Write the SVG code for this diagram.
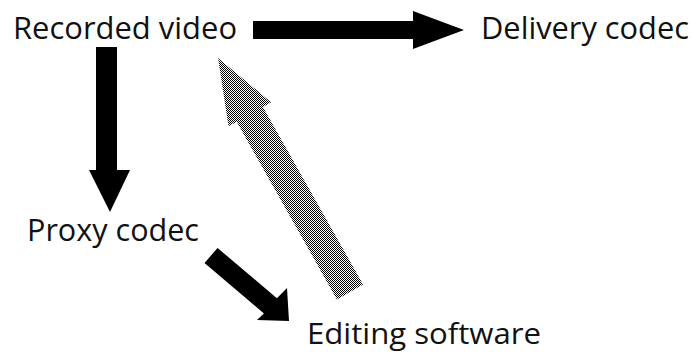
<svg xmlns="http://www.w3.org/2000/svg" width="695" height="352" viewBox="0 0 695 352">
<style>
.lbl{font-family:"Open Sans","DejaVu Sans",sans-serif;font-size:31px;fill:#111}
.arr{fill:#000}
</style>
<defs>
<pattern id="dots" width="2" height="2" patternUnits="userSpaceOnUse">
<rect width="2" height="2" fill="#fff"/>
<rect x="0" y="0" width="1" height="1" fill="#000"/>
<rect x="1" y="1" width="1" height="1" fill="#000"/>
</pattern>
</defs>
<rect width="695" height="352" fill="#fff"/>
<g id="connectors">
<polygon class="arr" points="253,21 413,21 413,11 464,30 413,49 413,39 253,39"/>
<polygon class="arr" points="96,47 117,47 117,170 130,170 110,212 89,170 96,170"/>
<polygon class="arr" points="217.5,247.9 276.9,298.2 287,288 289,321 257,320 263.9,313.4 204.5,263.1"/>
<polygon fill="url(#dots)" points="336.9,299.4 363.1,284.6 262.9,106.9 271.1,102.3 218,58 228.5,126.3 236.7,121.7"/>
</g>
<g id="recorded-video"><text class="lbl" x="13" y="39" textLength="224" lengthAdjust="spacingAndGlyphs">Recorded video</text></g>
<g id="delivery-codec"><text class="lbl" x="481" y="39" textLength="208" lengthAdjust="spacingAndGlyphs">Delivery codec</text></g>
<g id="proxy-codec"><text class="lbl" x="27" y="241" textLength="172" lengthAdjust="spacingAndGlyphs">Proxy codec</text></g>
<g id="editing-software"><text class="lbl" x="307" y="344" font-size="30" style="font-size:30px" textLength="234" lengthAdjust="spacingAndGlyphs">Editing software</text></g>
</svg>
